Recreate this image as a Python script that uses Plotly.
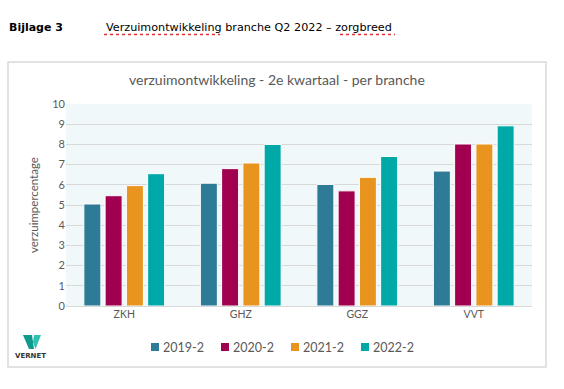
import plotly.graph_objects as go

# ---------------- data ----------------
categories = ["ZKH", "GHZ", "GGZ", "VVT"]
series_names = ["2019-2", "2020-2", "2021-2", "2022-2"]
v2019 = [5.05, 6.08, 6.02, 6.68]
v2020 = [5.46, 6.80, 5.70, 8.02]
v2021 = [5.96, 7.08, 6.37, 8.02]
v2022 = [6.55, 8.00, 7.40, 8.92]
series_values = [v2019, v2020, v2021, v2022]
colors = ["#2E7B97", "#A0004F", "#E8941F", "#00A8A8"]
y_ticks = list(range(0, 11))

title_text = "verzuimontwikkeling - 2e kwartaal - per branche"
y_title = "verzuimpercentage"
header_left = "Bijlage 3"
header_right = "Verzuimontwikkeling branche Q2 2022 \u2013 zorgbreed"

# ---------------- geometry helpers (pixel -> paper) ----------------
W, H = 564, 389
PL, PR, PT, PB = 66, 532, 104, 306


def px(x):
    return (x - PL) / (PR - PL)


def py(y):
    return (PB - y) / (PB - PT)


FONT = "Lato, 'Open Sans', sans-serif"
GRAY = "#595959"

fig = go.Figure()
for name, vals, col in zip(series_names, series_values, colors):
    fig.add_trace(go.Bar(
        x=categories, y=vals, name=name,
        marker=dict(color=col, line=dict(color="white", width=1)),
        showlegend=False,
    ))

fig.update_layout(
    width=W, height=H,
    margin=dict(l=PL, r=W - PR, t=PT, b=H - PB, pad=0),
    paper_bgcolor="white",
    plot_bgcolor="#F0F8FA",
    barmode="group",
    bargap=0.27,
    bargroupgap=0.2,
    font=dict(family=FONT, color=GRAY),
)
fig.update_yaxes(
    range=[0, 10], tickvals=y_ticks, showgrid=True, gridcolor="#D9D9D9",
    gridwidth=1, zeroline=True, zerolinecolor="#D9D9D9", zerolinewidth=1,
    tickfont=dict(size=11, color=GRAY, family=FONT), ticks="", ticklen=0,
    showline=False, fixedrange=True,
)
fig.update_xaxes(
    tickfont=dict(size=10.5, color=GRAY, family=FONT), ticks="",
    showline=False, showgrid=False, fixedrange=True,
)

shapes = []
annotations = []

# chart border box
shapes.append(dict(type="rect", xref="paper", yref="paper",
                   x0=px(8), x1=px(546), y0=py(367), y1=py(62),
                   line=dict(color="#D9D9D9", width=1.5), layer="below"))

# title
annotations.append(dict(text=title_text, xref="paper", yref="paper",
                        x=px(277), y=py(80), xanchor="center", yanchor="middle",
                        showarrow=False, font=dict(size=14, color=GRAY, family=FONT)))
# y-axis title
annotations.append(dict(text=y_title, xref="paper", yref="paper",
                        x=px(33), y=py(205), xanchor="center", yanchor="middle",
                        textangle=-90, showarrow=False,
                        font=dict(size=11.5, color=GRAY, family=FONT)))

# header texts
annotations.append(dict(text="<b>" + header_left + "</b>", xref="paper", yref="paper",
                        x=px(7), y=py(27), xanchor="left", yanchor="middle",
                        showarrow=False,
                        font=dict(size=11, color="black", family="DejaVu Sans")))
annotations.append(dict(text=header_right, xref="paper", yref="paper",
                        x=px(104), y=py(27), xanchor="left", yanchor="middle",
                        showarrow=False,
                        font=dict(size=11.2, color="black", family="DejaVu Sans")))
for x0, x1 in [(104, 220), (340, 395)]:
    shapes.append(dict(type="line", xref="paper", yref="paper",
                       x0=px(x0), x1=px(x1), y0=py(34.5), y1=py(34.5),
                       line=dict(color="#E03030", width=1.5, dash="dot")))

# custom legend built from the series lists
leg_y = 347
for i, (name, col) in enumerate(zip(series_names, colors)):
    sx = 151 + i * 70
    shapes.append(dict(type="rect", xref="paper", yref="paper",
                       x0=px(sx), x1=px(sx + 8), y0=py(leg_y + 4), y1=py(leg_y - 4),
                       fillcolor=col, line=dict(width=0)))
    annotations.append(dict(text=name, xref="paper", yref="paper",
                            x=px(sx + 10), y=py(leg_y), xanchor="left", yanchor="middle",
                            showarrow=False,
                            font=dict(size=12.5, color=GRAY, family=FONT)))

# VERNET logo


def path(points):
    return "M " + " L ".join(f"{px(a):.5f},{py(b):.5f}" for a, b in points) + " Z"


shapes.append(dict(type="path", xref="paper", yref="paper",
                   path=path([(23, 335), (32, 335), (34, 349), (29, 349)]),
                   fillcolor="#109A8C", line=dict(width=0)))
shapes.append(dict(type="path", xref="paper", yref="paper",
                   path=path([(34, 335), (41, 335), (35.5, 349), (33, 342)]),
                   fillcolor="#2FC2B2", line=dict(width=0)))
annotations.append(dict(text="<b>VERNET</b>", xref="paper", yref="paper",
                        x=px(30), y=py(356), xanchor="center", yanchor="middle",
                        showarrow=False,
                        font=dict(size=7, color="#333333", family="DejaVu Sans")))

fig.update_layout(shapes=shapes, annotations=annotations)

fig.write_html("out.html", config=dict(displayModeBar=False),
               post_script="document.body.style.margin='0';document.body.style.padding='0';")
